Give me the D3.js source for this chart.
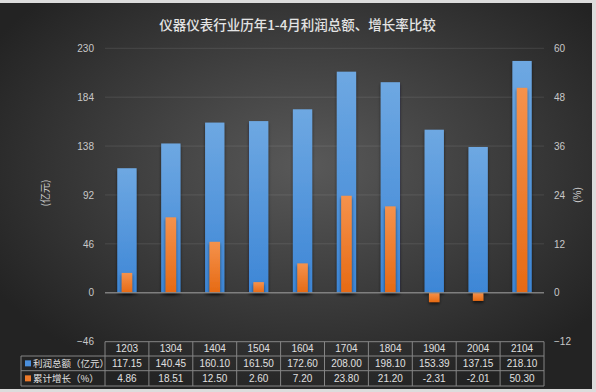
<!DOCTYPE html>
<html><head><meta charset="utf-8">
<script src="https://cdn.jsdelivr.net/npm/d3@7"></script>
<style>html,body{margin:0;padding:0;background:#ddd;}svg{display:block;}</style>
</head><body>
<script>
const categories = ["1203","1304","1404","1504","1604","1704","1804","1904","2004","2104"];
const profit = [117.15,140.45,160.10,161.50,172.60,208.00,198.10,153.39,137.15,218.10];
const growth = [4.86,18.51,12.50,2.60,7.20,23.80,21.20,-2.31,-2.01,50.30];
const leftTicks = [-46,0,46,92,138,184,230];
const rightTicks = [-12,0,12,24,36,48,60];
const title = "仪器仪表行业历年1-4月利润总额、增长率比较";
const seriesNames = ["利润总额（亿元）","累计增长（%）"];

const W=596,H=392;
const svg=d3.select("body").append("svg").attr("width",W).attr("height",H);
const defs=svg.append("defs");
const bg=defs.append("radialGradient").attr("id","bg").attr("cx","52%").attr("cy","42%").attr("r","62%");
bg.append("stop").attr("offset","0%").attr("stop-color","#595959");
bg.append("stop").attr("offset","100%").attr("stop-color","#232323");
const gb=defs.append("linearGradient").attr("id","gb").attr("x1",0).attr("y1",0).attr("x2",0).attr("y2",1);
gb.append("stop").attr("offset","0%").attr("stop-color","#6ea8e2");
gb.append("stop").attr("offset","100%").attr("stop-color","#3d86d6");
const go=defs.append("linearGradient").attr("id","go").attr("x1",0).attr("y1",0).attr("x2",0).attr("y2",1);
go.append("stop").attr("offset","0%").attr("stop-color","#f5924c");
go.append("stop").attr("offset","100%").attr("stop-color","#e66a14");
const sh=defs.append("filter").attr("id","sh").attr("x","-30%").attr("y","-10%").attr("width","160%").attr("height","130%");
sh.append("feDropShadow").attr("dx",0).attr("dy",2).attr("stdDeviation",1.5).attr("flood-color","#000").attr("flood-opacity",0.6);

svg.append("rect").attr("width",W).attr("height",H).attr("fill","#dcdcdc");
svg.append("rect").attr("x",0).attr("y",3).attr("width",592).attr("height",386).attr("fill","url(#bg)");

const x=d3.scaleBand().domain(categories).range([105,544]);
const yL=d3.scaleLinear().domain([-46,230]).range([341.6,48.3]);
const yR=d3.scaleLinear().domain([-12,60]).range([341.6,48.3]);

svg.append("text").attr("x",297.5).attr("y",30).attr("text-anchor","middle")
 .attr("font-family","Noto Sans CJK SC").attr("font-weight",500).attr("font-size",13.5).attr("fill","#e4e4e4").text(title);

svg.append("g").selectAll("line").data(leftTicks.filter(d=>d!==0&&d!==-46)).join("line")
 .attr("x1",105).attr("x2",544).attr("y1",d=>yL(d)).attr("y2",d=>yL(d))
 .attr("stroke","rgba(255,255,255,0.1)").attr("stroke-width",1);

const axL=svg.append("g").attr("transform","translate(94,0)")
 .call(d3.axisLeft(yL).tickValues(leftTicks).tickSize(0).tickPadding(0));
const axR=svg.append("g").attr("transform","translate(554,0)")
 .call(d3.axisRight(yR).tickValues(rightTicks).tickSize(0).tickPadding(0));
[axL,axR].forEach(a=>{a.select(".domain").remove();
 a.selectAll("text").attr("font-family","Liberation Sans").attr("font-size",10).attr("fill","#c8c8c8");});

svg.append("text").attr("transform","translate(49,193) rotate(-90)").attr("text-anchor","middle")
 .attr("font-family","Noto Sans CJK SC").attr("font-size",10).attr("fill","#c8c8c8").text("(亿元)");
svg.append("text").attr("transform","translate(581,195) rotate(-90)").attr("text-anchor","middle")
 .attr("font-family","Liberation Sans").attr("font-size",10).attr("fill","#c8c8c8").text("(%)");

const bw=x.bandwidth()*0.44, ow=x.bandwidth()*0.24;
svg.append("g").attr("filter","url(#sh)").selectAll("rect").data(categories).join("rect")
 .attr("x",(d)=>x(d)+x.bandwidth()/2-bw/2).attr("width",bw)
 .attr("y",(d,i)=>yL(Math.max(0,profit[i]))).attr("height",(d,i)=>Math.abs(yL(profit[i])-yL(0)))
 .attr("fill","url(#gb)");
svg.append("g").attr("filter","url(#sh)").selectAll("rect").data(categories).join("rect")
 .attr("x",(d)=>x(d)+x.bandwidth()/2-ow/2).attr("width",ow)
 .attr("y",(d,i)=>yR(Math.max(0,growth[i]))).attr("height",(d,i)=>Math.abs(yR(growth[i])-yR(0)))
 .attr("fill","url(#go)");

svg.append("line").attr("x1",105).attr("x2",544).attr("y1",yL(0)).attr("y2",yL(0))
 .attr("stroke","#8c8c8c").attr("stroke-width",1.5).attr("opacity",0.85);

const rows=[341.7,356,370.7,386];
const tg=svg.append("g");
const lc="#858585";
tg.append("line").attr("x1",105).attr("x2",544).attr("y1",rows[0]).attr("y2",rows[0]).attr("stroke",lc);
[1,2,3].forEach(r=>tg.append("line").attr("x1",21).attr("x2",544).attr("y1",rows[r]).attr("y2",rows[r]).attr("stroke",lc));
tg.append("line").attr("x1",21).attr("x2",21).attr("y1",rows[1]).attr("y2",rows[3]).attr("stroke",lc);
categories.forEach(c=>tg.append("line").attr("x1",x(c)).attr("x2",x(c)).attr("y1",rows[0]).attr("y2",rows[3]).attr("stroke",lc));
tg.append("line").attr("x1",544).attr("x2",544).attr("y1",rows[0]).attr("y2",rows[3]).attr("stroke",lc);

const tf="Liberation Sans";
tg.selectAll("text.cat").data(categories).join("text").attr("class","cat")
 .attr("x",d=>x(d)+x.bandwidth()/2).attr("y",(rows[0]+rows[1])/2+3.5).attr("text-anchor","middle")
 .attr("font-family",tf).attr("font-size",10).attr("fill","#e0e0e0").text(d=>d);
tg.selectAll("text.p").data(profit).join("text").attr("class","p")
 .attr("x",(d,i)=>x(categories[i])+x.bandwidth()/2).attr("y",(rows[1]+rows[2])/2+3.5).attr("text-anchor","middle")
 .attr("font-family",tf).attr("font-size",10).attr("fill","#e0e0e0").text(d=>d.toFixed(2));
tg.selectAll("text.g").data(growth).join("text").attr("class","g")
 .attr("x",(d,i)=>x(categories[i])+x.bandwidth()/2).attr("y",(rows[2]+rows[3])/2+3.5).attr("text-anchor","middle")
 .attr("font-family",tf).attr("font-size",10).attr("fill","#e0e0e0").text(d=>d.toFixed(2));

const cols=["#4a8fdc","#ee7a2a"];
[0,1].forEach(i=>{
 const cy=(rows[i+1]+rows[i+2])/2;
 tg.append("rect").attr("x",25).attr("y",cy-3).attr("width",6).attr("height",6).attr("fill",cols[i]);
 tg.append("text").attr("x",33).attr("y",cy+3.8).attr("font-family","Noto Sans CJK SC").attr("font-size",9.5)
  .attr("fill","#e0e0e0").text(seriesNames[i]);
});
</script>
</body></html>
